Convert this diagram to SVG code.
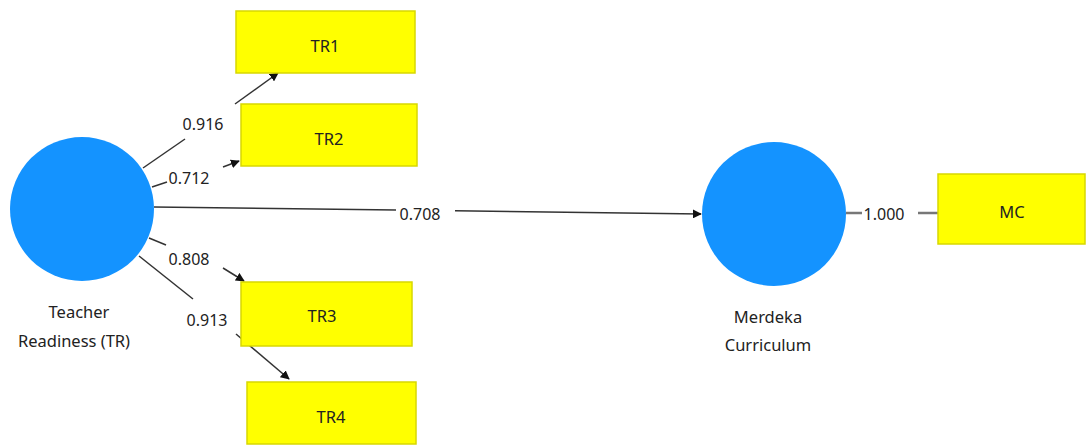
<svg xmlns="http://www.w3.org/2000/svg" width="1086" height="445" viewBox="0 0 1086 445">
<style>
text{font-family:"Noto Sans","Open Sans","Liberation Sans",sans-serif;font-size:16.5px;fill:#222;text-anchor:middle}
.box{fill:#ffff00;stroke:#d8d800;stroke-width:1.5}
.lv{fill:#1493ff}
.ln{stroke:#333;stroke-width:1.5;fill:none}
.lg{stroke:#777;stroke-width:2.5;fill:none}
.lbl{font-size:16px}
</style>
<defs>
<marker id="ah" viewBox="0 0 10 10" refX="9" refY="5" markerWidth="9" markerHeight="9" markerUnits="userSpaceOnUse" orient="auto">
<path d="M0,0 L10,5 L0,10 z" fill="#111"/>
</marker>
</defs>
<rect width="1086" height="445" fill="#fff"/>
<g id="connectors">
<path class="ln" d="M143,168 L185,139"/>
<path class="ln" d="M235,104 L278,73" marker-end="url(#ah)"/>
<text class="lbl" x="203" y="130">0.916</text>
<path class="ln" d="M152,187 L167,182"/>
<path class="ln" d="M223,167 L239,161" marker-end="url(#ah)"/>
<text class="lbl" x="189" y="184">0.712</text>
<path class="ln" d="M154,207 L396,210"/>
<path class="ln" d="M455,210.7 L701,214" marker-end="url(#ah)"/>
<text class="lbl" x="420" y="220">0.708</text>
<path class="ln" d="M149,238 L166,245"/>
<path class="ln" d="M223,268 L244,281" marker-end="url(#ah)"/>
<text class="lbl" x="189" y="265">0.808</text>
<path class="ln" d="M139,256 L193,299"/>
<path class="ln" d="M236,334 L289,379" marker-end="url(#ah)"/>
<text class="lbl" x="207" y="326">0.913</text>
<path class="lg" d="M846,213 L862,213"/>
<path class="lg" d="M918,213 L938,213"/>
<text class="lbl" x="884" y="220">1.000</text>
</g>
<g id="TR">
<circle class="lv" cx="82" cy="209" r="72"/>
<text x="79" y="318">Teacher</text>
<text x="74" y="347">Readiness (TR)</text>
</g>
<g id="MC_latent">
<circle class="lv" cx="774" cy="214" r="72"/>
<text x="768" y="323">Merdeka</text>
<text x="768" y="351">Curriculum</text>
</g>
<g id="TR1"><rect class="box" x="236" y="11" width="179" height="62"/><text x="325" y="52">TR1</text></g>
<g id="TR2"><rect class="box" x="241" y="104" width="176" height="62"/><text x="329" y="145">TR2</text></g>
<g id="TR3"><rect class="box" x="241" y="282" width="171" height="64"/><text x="322" y="322">TR3</text></g>
<g id="TR4"><rect class="box" x="247" y="382" width="169" height="62"/><text x="331" y="423">TR4</text></g>
<g id="MC"><rect class="box" x="938" y="174" width="147" height="70"/><text x="1012" y="218">MC</text></g>
</svg>
